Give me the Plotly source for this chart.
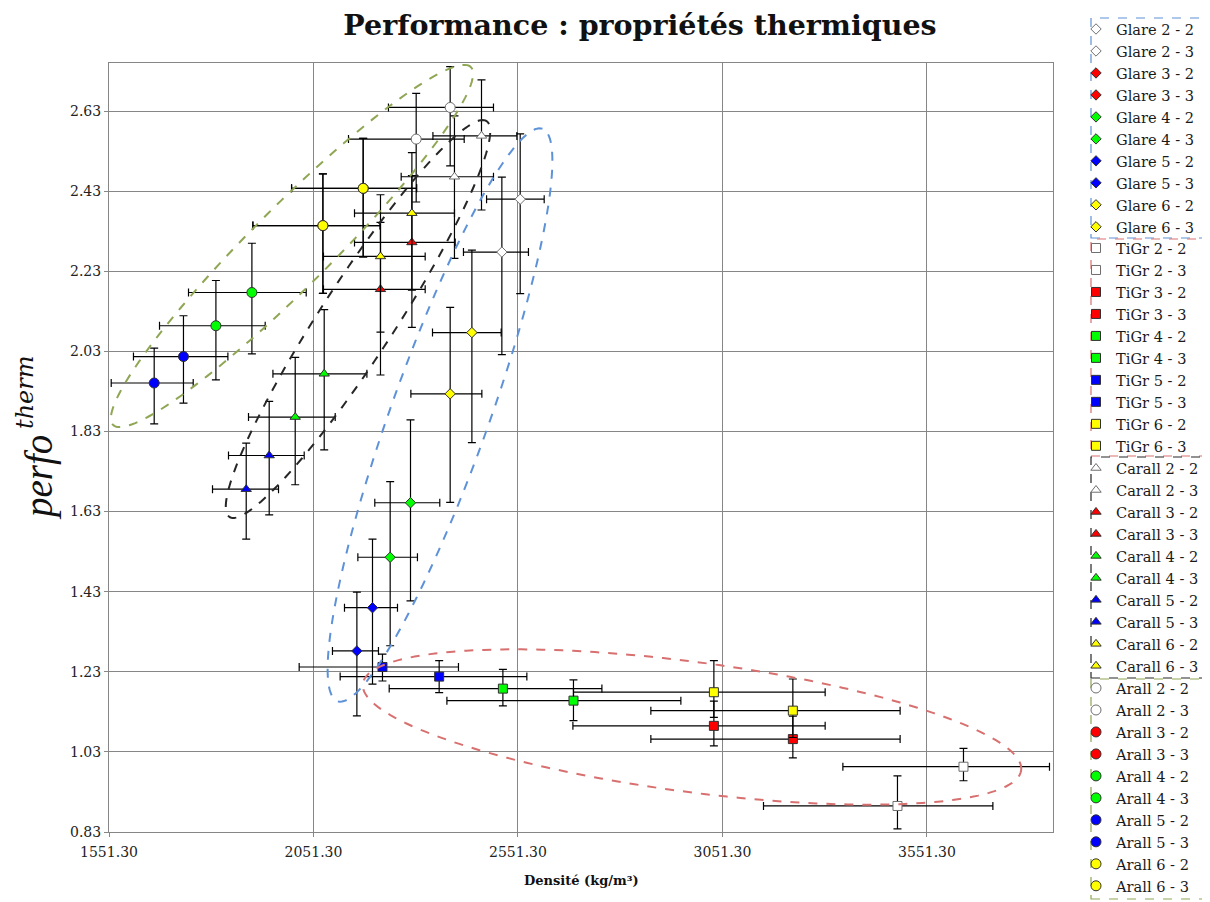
import numpy as np
import plotly.graph_objects as go

# ---------------- data ----------------
series_suffix = ["2 - 2", "2 - 3", "3 - 2", "3 - 3", "4 - 2", "4 - 3", "5 - 2", "5 - 3", "6 - 2", "6 - 3"]
series_colors = ["#FFFFFF", "#FFFFFF", "#FF0000", "#FF0000", "#00FF00", "#00FF00",
                 "#0000FF", "#0000FF", "#FFFF00", "#FFFF00"]

glare_x = [2556.7, 2511.9, None, None, 2288.5, 2238.8, 2195.6, 2157.4, 2438.6, 2385.5]
glare_y = [2.410, 2.278, None, None, 1.652, 1.516, 1.390, 1.282, 2.077, 1.924]
glare_ex_plus = [58.7, 65.0, None, None, 71.6, 66.7, 61.1, 52.8, 71.6, 77.5]
glare_ex_minus = [82.2, 93.9, None, None, 87.3, 79.0, 68.5, 59.7, 96.3, 96.1]
glare_ey_plus = [0.163, 0.187, None, None, 0.207, 0.189, 0.171, 0.147, 0.206, 0.216]
glare_ey_minus = [0.236, 0.256, None, None, 0.245, 0.221, 0.191, 0.162, 0.275, 0.271]

tigr_x = [3640.6, 3479.2, 3030.3, 3223.4, 2514.4, 2687.0, 2220.0, 2358.6, 3030.3, 3223.4]
tigr_y = [0.993, 0.895, 1.095, 1.062, 1.188, 1.158, 1.242, 1.218, 1.179, 1.133]
tigr_ex_plus = [210.3, 233.3, 272.1, 262.3, 242.1, 262.6, 185.8, 214.4, 272.1, 262.3]
tigr_ex_minus = [294.9, 327.6, 344.7, 347.2, 278.0, 309.5, 203.7, 242.1, 343.3, 347.2]
tigr_ey_plus = [0.046, 0.075, 0.062, 0.057, 0.048, 0.052, 0.032, 0.040, 0.079, 0.079]
tigr_ey_minus = [0.035, 0.057, 0.050, 0.047, 0.043, 0.050, 0.035, 0.040, 0.063, 0.067]

carall_x = [2462.1, 2396.0, 2291.9, 2215.1, 2077.5, 2006.6, 1943.0, 1886.8, 2291.9, 2215.1]
carall_y = [2.568, 2.466, 2.302, 2.185, 1.974, 1.866, 1.770, 1.686, 2.375, 2.267]
carall_ex_plus = [86.6, 95.4, 105.9, 109.3, 104.4, 97.8, 85.6, 79.0, 104.2, 109.3]
carall_ex_minus = [118.8, 130.3, 140.3, 139.4, 125.4, 114.2, 99.5, 82.4, 140.3, 139.4]
carall_ey_plus = [0.140, 0.152, 0.167, 0.167, 0.160, 0.149, 0.135, 0.115, 0.151, 0.154]
carall_ey_minus = [0.185, 0.204, 0.212, 0.214, 0.190, 0.169, 0.148, 0.125, 0.192, 0.189]

arall_x = [2385.5, 2302.4, 2172.8, 2074.3, 1900.7, 1812.7, 1733.4, 1661.8, 2172.8, 2074.3]
arall_y = [2.639, 2.560, 2.437, 2.344, 2.177, 2.094, 2.017, 1.951, 2.437, 2.344]
arall_ex_plus = [105.9, 117.4, 130.6, 140.1, 132.8, 120.5, 108.6, 95.4, 130.6, 140.1]
arall_ex_minus = [150.9, 165.5, 175.1, 171.2, 155.0, 137.9, 122.3, 105.1, 175.1, 171.2]
arall_ey_plus = [0.102, 0.114, 0.125, 0.129, 0.123, 0.113, 0.102, 0.087, 0.125, 0.129]
arall_ey_minus = [0.146, 0.157, 0.171, 0.169, 0.153, 0.135, 0.116, 0.102, 0.171, 0.169]

x_tick0, x_dtick = 1551.3, 500
y_tick0, y_dtick = 0.83, 0.2

# ---------------- geometry ----------------
# the page body has an 8 px margin: the figure is laid out in page pixels minus OFF
OFF = 8
SW, SH = 1210, 902                 # page size
W, H = SW - OFF, SH - OFF          # figure size
S_LEFT, S_RIGHT, S_TOP, S_BOT = 109, 1053, 63, 832   # plot area on the page
L, R, T, B = S_LEFT - OFF, SW - S_RIGHT, S_TOP - OFF, SH - S_BOT
X0, X1 = 1551.3, 3859.5
Y0, Y1 = 0.83, 2.75
pw, ph = S_RIGHT - S_LEFT, S_BOT - S_TOP


def px2x(px):
    return X0 + (np.asarray(px) - S_LEFT) / pw * (X1 - X0)


def py2y(py):
    return Y0 + (S_BOT - np.asarray(py)) / ph * (Y1 - Y0)


def paper_x(px):
    return (px - S_LEFT) / pw


def paper_y(py):
    return (S_BOT - py) / ph


families = [
    ("Glare", "diamond", 8, glare_x, glare_y, glare_ex_plus, glare_ex_minus, glare_ey_plus, glare_ey_minus, "legend"),
    ("TiGr", "square", 9, tigr_x, tigr_y, tigr_ex_plus, tigr_ex_minus, tigr_ey_plus, tigr_ey_minus, "legend2"),
    ("Carall", "triangle-up", 9, carall_x, carall_y, carall_ex_plus, carall_ex_minus, carall_ey_plus, carall_ey_minus, "legend3"),
    ("Arall", "circle", 10, arall_x, arall_y, arall_ex_plus, arall_ex_minus, arall_ey_plus, arall_ey_minus, "legend4"),
]

fig = go.Figure()
for fam, sym, size, xs, ys, exp, exm, eyp, eym, leg in families:
    for i, suf in enumerate(series_suffix):
        col = series_colors[i]
        edge = "#6e6e6e" if col == "#FFFFFF" else "#303030"
        fig.add_trace(go.Scatter(
            x=[xs[i]], y=[ys[i]], mode="markers", name=f"{fam} {suf}",
            legend=leg,
            marker=dict(symbol=sym, size=size, color=col, line=dict(color=edge, width=1)),
            error_x=dict(type="data", symmetric=False, array=[exp[i]], arrayminus=[exm[i]],
                         color="#000000", thickness=1.2, width=4),
            error_y=dict(type="data", symmetric=False, array=[eyp[i]], arrayminus=[eym[i]],
                         color="#000000", thickness=1.2, width=4),
        ))

# ---------------- dashed ellipses (page-pixel parameters) ----------------
ellipses = [
    # cx, cy, semi-major, semi-minor, angle(deg), color
    (292, 246, 253, 40, 45.0, "#8FA653"),
    (358, 319, 236, 37, 57.0, "#262626"),
    (440, 415, 304, 49, 70.3, "#5E92D8"),
    (692, 727, 332, 65, -7.5, "#D87070"),
]
shapes = []
for cx, cy, a, b, ang, col in ellipses:
    t = np.linspace(0, 2 * np.pi, 180)
    th = np.radians(ang)
    ex = cx + a * np.cos(t) * np.cos(th) - b * np.sin(t) * np.sin(th)
    ey = cy - (a * np.cos(t) * np.sin(th) + b * np.sin(t) * np.cos(th))
    xs, ys = px2x(ex), py2y(ey)
    path = "M " + " L ".join(f"{u:.3f},{v:.5f}" for u, v in zip(xs, ys)) + " Z"
    shapes.append(dict(type="path", path=path, xref="x", yref="y",
                       line=dict(color=col, width=2, dash="dash"), layer="above"))

# legend group boxes (page pixels)
boxes = [(18, 238, "#5E92D8"), (239, 456, "#D87070"), (457, 678, "#262626"), (679, 899, "#8FA653")]
for top, bot, col in boxes:
    shapes.append(dict(type="rect", xref="paper", yref="paper",
                       x0=paper_x(1091), x1=paper_x(1206), y0=paper_y(bot), y1=paper_y(top),
                       line=dict(color=col, width=1.2, dash="dash"), fillcolor="rgba(0,0,0,0)"))

legend_first = [28, 247, 467, 687]   # page y of first item in each group
leg_font = dict(family="DejaVu Serif", size=14.6, color="#1a1a1a")
legend_cfg = {}
for k, fc in zip(["legend", "legend2", "legend3", "legend4"], legend_first):
    legend_cfg[k] = dict(x=paper_x(1076), xanchor="left", y=paper_y(fc - 15), yanchor="top",
                         bgcolor="rgba(0,0,0,0)", borderwidth=0, font=leg_font,
                         tracegroupgap=0, itemclick=False)

axis_common = dict(showgrid=True, gridcolor="#868686", gridwidth=1, showline=True,
                   linecolor="#868686", linewidth=1, mirror=True, ticks="outside",
                   ticklen=4, tickcolor="#868686", zeroline=False,
                   tickfont=dict(family="DejaVu Serif", size=14, color="#222222"))

fig.update_layout(
    width=W, height=H,
    margin=dict(l=L, r=R, t=T, b=B, autoexpand=False),
    paper_bgcolor="white", plot_bgcolor="white",
    title=dict(text="<b>Performance : propriétés thermiques</b>", x=(640 - OFF) / W, xanchor="center",
               y=1 - (25 - OFF) / H, yanchor="middle", xref="container", yref="container",
               font=dict(family="DejaVu Serif", size=28.5, color="#111111")),
    xaxis=dict(range=[X0, X1], tick0=x_tick0, dtick=x_dtick, tickformat=".2f",
               ticklabelstandoff=3, **axis_common),
    yaxis=dict(range=[Y0, Y1], tick0=y_tick0, dtick=y_dtick, tickformat=".2f", **axis_common),
    shapes=shapes,
    annotations=[
        dict(text="<b>Densité (kg/m³)</b>", xref="paper", yref="paper", x=0.5, y=paper_y(880),
             xanchor="center", yanchor="middle", showarrow=False,
             font=dict(family="DejaVu Serif", size=13, color="#111111")),
        dict(text="<i>perfo</i>", xref="paper", yref="paper", x=paper_x(39), y=paper_y(478),
             xanchor="center", yanchor="middle", showarrow=False, textangle=-90,
             font=dict(family="Liberation Serif", size=39, color="#111111")),
        dict(text="<i>therm</i>", xref="paper", yref="paper", x=paper_x(25), y=paper_y(392),
             xanchor="center", yanchor="middle", showarrow=False, textangle=-90,
             font=dict(family="DejaVu Serif", size=24, color="#111111")),
    ],
    **legend_cfg,
)

fig.write_html("out.html")
